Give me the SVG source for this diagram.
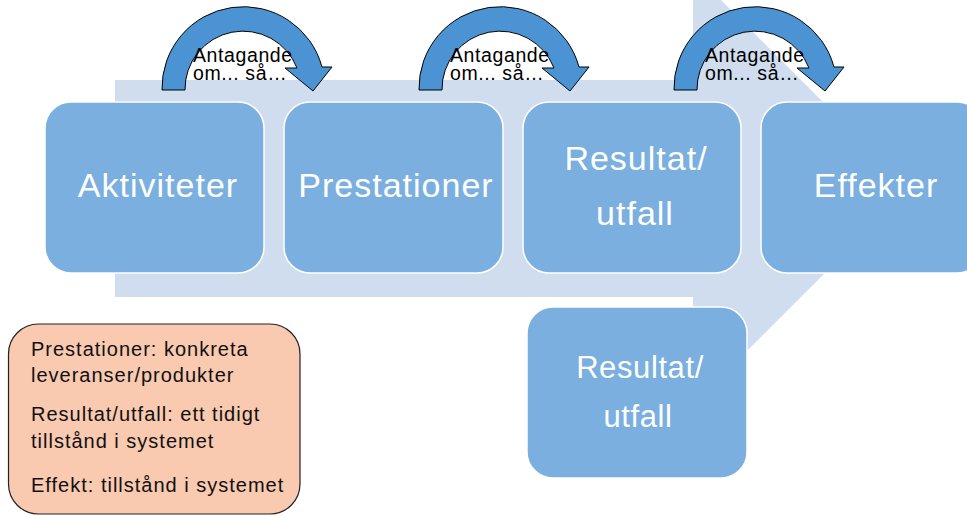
<svg xmlns="http://www.w3.org/2000/svg" width="967" height="516" viewBox="0 0 967 516">
<style>
.box{fill:#7aafdf;stroke:#ffffff;stroke-width:1.5}
.big{font-family:"Liberation Sans",Arial,sans-serif;font-size:34px;fill:#ffffff;text-anchor:middle;letter-spacing:1px}
.ant{font-family:"Liberation Sans",Arial,sans-serif;font-size:19.5px;fill:#000000;letter-spacing:0.6px}
.leg{font-family:"Liberation Sans",Arial,sans-serif;font-size:20px;fill:#111111;letter-spacing:1px}
.carrow{fill:#4b93d2;stroke:#000000;stroke-width:1}
</style>
<defs>
<path id="curved" d="M162,90 A81.4,81.4 0 0 1 322,67 L332,67 L313,91 L285,68 L297,68 A58,58 0 0 0 185,90 Z"/>
</defs>
<rect width="967" height="516" fill="#ffffff"/>
<g id="background-arrow">
<polygon points="115,80 693,80 693,-28 909.5,188.5 693,405 693,297 115,297" fill="#cfddef"/>
</g>
<g id="connectors">
<use href="#curved" class="carrow"/>
<use href="#curved" class="carrow" transform="translate(257,0)"/>
<use href="#curved" class="carrow" transform="translate(512,0)"/>
<text class="ant"><tspan x="193" y="62">Antagande</tspan><tspan x="193" y="80">om... så…</tspan></text>
<text class="ant"><tspan x="450" y="62">Antagande</tspan><tspan x="450" y="80">om... så…</tspan></text>
<text class="ant"><tspan x="705" y="62">Antagande</tspan><tspan x="705" y="80">om... så…</tspan></text>
</g>
<g id="node-aktiviteter">
<rect class="box" x="45" y="102" width="219" height="171" rx="26"/>
<text class="big" x="158" y="197">Aktiviteter</text>
</g>
<g id="node-prestationer">
<rect class="box" x="284" y="102" width="219" height="171" rx="26"/>
<text class="big" x="396" y="197">Prestationer</text>
</g>
<g id="node-resultat">
<rect class="box" x="523" y="102" width="218" height="171" rx="26"/>
<text class="big" x="636" y="170">Resultat/</text>
<text class="big" x="635" y="225">utfall</text>
</g>
<g id="node-effekter">
<rect class="box" x="761" y="102" width="222" height="171" rx="26"/>
<text class="big" x="876" y="197">Effekter</text>
</g>
<g id="node-resultat-2">
<rect class="box" x="527" y="307" width="220" height="171" rx="26"/>
<text class="big" x="640" y="378" style="font-size:31px;letter-spacing:0.6px">Resultat/</text>
<text class="big" x="638" y="427" style="font-size:31px;letter-spacing:0.6px">utfall</text>
</g>
<g id="legend">
<rect x="8.5" y="324" width="291.5" height="190" rx="30" fill="#f9c9b0" stroke="#222222" stroke-width="1.2"/>
<text class="leg" x="31" y="356">Prestationer: konkreta</text>
<text class="leg" x="31" y="382">leveranser/produkter</text>
<text class="leg" x="31" y="421">Resultat/utfall: ett tidigt</text>
<text class="leg" x="31" y="448">tillstånd i systemet</text>
<text class="leg" x="31" y="492">Effekt: tillstånd i systemet</text>
</g>
</svg>
